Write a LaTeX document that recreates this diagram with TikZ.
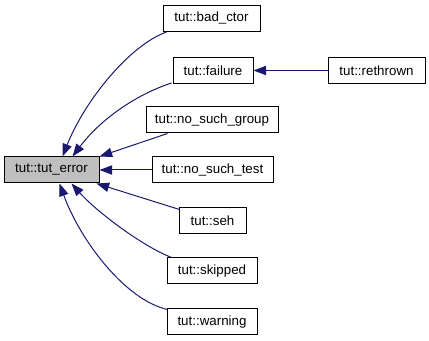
\documentclass[tikz,border=0pt]{standalone}
\usepackage{fontspec}
\setmainfont{Liberation Sans}
\usetikzlibrary{arrows.meta,calc}
\definecolor{edgeblue}{HTML}{191970}
\definecolor{basegray}{HTML}{BFBFBF}
\begin{document}
\begin{tikzpicture}[x=0.75pt,y=-0.75pt,
  cls/.style={draw=black,line width=0.75pt,fill=white,inner sep=0pt,
    minimum height=0.75pt*26,minimum width=0.75pt*#1,
    font=\fontsize{10}{12}\selectfont},
  basecls/.style={cls=#1,fill=basegray},
  inherit/.style={draw=edgeblue,line width=0.75pt,
    -{Triangle[length=9.5pt,width=7pt]}}]
\useasboundingbox (0,0) rectangle (429,341);

% base class
\node[basecls=95] (err) at (51.5,170) {tut::tut\_error};

% derived classes
\node[cls=97]  (bad)      at (211.5,18.5) {tut::bad\_ctor};
\node[cls=80]  (failure)  at (213,70.5)   {tut::failure};
\node[cls=97]  (rethrown) at (376.5,70.5) {tut::rethrown};
\node[cls=132] (nsg)      at (212,120)    {tut::no\_such\_group};
\node[cls=121] (nst)      at (212.5,170)  {tut::no\_such\_test};
\node[cls=67]  (seh)      at (212.5,221)  {tut::seh};
\node[cls=90]  (skipped)  at (212,271)    {tut::skipped};
\node[cls=90]  (warning)  at (212,322)    {tut::warning};

% inheritance edges
\draw[inherit] (rethrown.west) -- (failure.east);
\draw[inherit] ($(bad.south west)+(4,0)$)
  .. controls (130,45) and (85,100) .. ($(err.north west)+(59,0)$);
\draw[inherit] ($(failure.south west)+(-1,-1)$)
  .. controls (135,95) and (100,120) .. ($(err.north west)+(69,0)$);
\draw[inherit] ($(nsg.south west)+(22,0)$) -- (err.north east);
\draw[inherit] (nst.west) -- (err.east);
\draw[inherit] ($(seh.north west)+(1,2)$) -- ($(err.south east)+(-3,0)$);
\draw[inherit] ($(skipped.north west)+(5,0)$)
  .. controls (140,245) and (95,210) .. ($(err.south west)+(68,0)$);
\draw[inherit] ($(warning.north west)+(1,1)$)
  .. controls (125,300) and (80,240) .. ($(err.south west)+(56,0)$);
\end{tikzpicture}
\end{document}
